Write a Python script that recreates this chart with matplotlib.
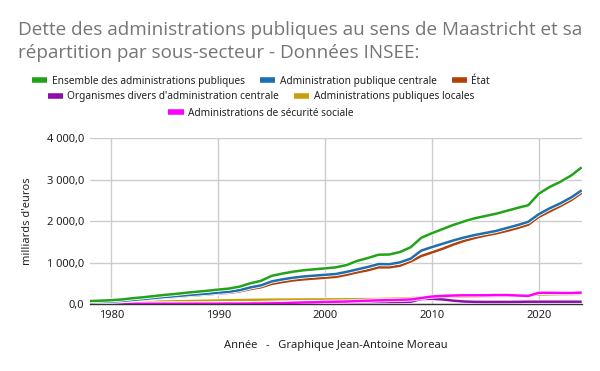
import matplotlib
matplotlib.use("Agg")
import matplotlib.pyplot as plt
import matplotlib.patheffects as pe
from matplotlib.lines import Line2D
from matplotlib.ticker import FuncFormatter, MultipleLocator

years = list(range(1978, 2025))

apu = [71, 80, 92, 110, 140, 163, 192, 220, 243, 272, 296, 320, 348, 372, 420, 500,
       560, 680, 735, 780, 815, 838, 860, 885, 940, 1040, 1110, 1190, 1195, 1255, 1370,
       1600, 1710, 1810, 1910, 1995, 2070, 2125, 2180, 2250, 2320, 2385, 2665, 2825,
       2950, 3100, 3300]
apuc = [45, 52, 60, 75, 100, 120, 145, 170, 190, 212, 232, 250, 275, 295, 335, 400,
        450, 545, 595, 635, 665, 685, 705, 725, 775, 835, 895, 965, 960, 1005, 1095,
        1290, 1375, 1455, 1535, 1605, 1665, 1715, 1765, 1835, 1905, 1985, 2170, 2310,
        2430, 2570, 2745]
etat = [40, 46, 54, 68, 92, 110, 133, 155, 173, 193, 212, 230, 255, 270, 305, 360,
        405, 485, 530, 570, 595, 615, 635, 655, 705, 765, 815, 885, 885, 925, 1025,
        1160, 1245, 1335, 1435, 1525, 1595, 1655, 1705, 1765, 1835, 1915, 2105, 2235,
        2365, 2505, 2685]
odac = [5, 5, 6, 6, 7, 7, 8, 8, 9, 9, 10, 10, 12, 14, 16, 20,
        25, 30, 35, 38, 40, 40, 40, 42, 44, 46, 48, 50, 50, 52, 55,
        120, 125, 110, 80, 60, 52, 50, 50, 50, 52, 55, 55, 55,
        55, 55, 55]
apul = [25, 28, 35, 40, 45, 50, 55, 60, 65, 70, 75, 80, 85, 90, 95, 100,
        103, 105, 106, 107, 108, 109, 110, 112, 114, 116, 118, 120, 125, 132, 140,
        155, 160, 165, 175, 180, 185, 190, 195, 198, 202, 205, 230, 235,
        238, 240, 245]
asso = [5, 5, 5, 5, 6, 6, 6, 7, 7, 7, 8, 8, 8, 9, 10, 12,
        14, 16, 20, 30, 38, 42, 50, 55, 60, 70, 80, 88, 95, 100, 110,
        145, 180, 195, 205, 210, 210, 210, 215, 215, 205, 195, 270, 270,
        265, 265, 275]

names = ["Ensemble des administrations publiques", "Administration publique centrale",
         "État", "Organismes divers d'administration centrale",
         "Administrations publiques locales", "Administrations de sécurité sociale"]
colors = ["#22a31a", "#1f6fae", "#b0410a", "#8e0fa8", "#c9a00b", "#ff00ff"]
series = [apu, apuc, etat, odac, apul, asso]

title_lines = ["Dette des administrations publiques au sens de Maastricht et sa",
               "répartition par sous-secteur - Données INSEE:"]

plt.rcParams['font.family'] = ['Noto Sans', 'DejaVu Sans']

W, H = 600, 371
fig = plt.figure(figsize=(6, 3.71), dpi=100)
ax = fig.add_axes([0.15, 0.1806, 0.8195, 0.4466])

order = [4, 3, 5, 2, 1, 0]
for i in order:
    ax.plot(years, series[i], color=colors[i], lw=1.8, solid_capstyle='butt',
            path_effects=[pe.Stroke(linewidth=3.0, foreground='white'), pe.Normal()],
            zorder=3)

ax.set_xlim(1978, 2024)
ax.set_ylim(0, 4000)
ax.xaxis.set_major_locator(MultipleLocator(10))
ax.yaxis.set_major_locator(MultipleLocator(1000))

def fr(v, pos):
    return f"{v:,.1f}".replace(",", " ").replace(".", ",")
ax.yaxis.set_major_formatter(FuncFormatter(fr))

ax.grid(True, color='#cccccc', lw=1.0)
ax.set_axisbelow(True)
for s in ['top', 'right', 'left']:
    ax.spines[s].set_visible(False)
ax.spines['bottom'].set_color('#333333')
ax.spines['bottom'].set_linewidth(1.0)
ax.spines['bottom'].set_zorder(4)
ax.tick_params(length=0, labelsize=8, colors='#222222', pad=4)

ax.set_ylabel("milliards d'euros", fontsize=8, color='#222222', labelpad=10)
ax.set_xlabel("Année   -   Graphique Jean-Antoine Moreau", fontsize=8,
              color='#222222', labelpad=14)

for line, yb in zip(title_lines, [35, 58]):
    fig.text(18 / W, 1 - yb / H, line, fontsize=13.6, color='#757575',
             family=['Open Sans', 'DejaVu Sans'], va='baseline', ha='left')

handles = [Line2D([0], [0], color=c, lw=4, solid_capstyle='butt') for c in colors]
rows = [[0, 1, 2], [3, 4], [5]]
row_y = [81.5, 97, 113]
for r, y in zip(rows, row_y):
    leg = fig.legend([handles[i] for i in r], [names[i] for i in r],
                     loc='center', bbox_to_anchor=(261 / W, 1 - y / H),
                     ncol=len(r), frameon=False, fontsize=7.3,
                     handlelength=1.5, handletextpad=0.45, columnspacing=1.5,
                     borderpad=0, borderaxespad=0)
    for t in leg.get_texts():
        t.set_color('#222222')

fig.savefig("out.png", dpi=100)
